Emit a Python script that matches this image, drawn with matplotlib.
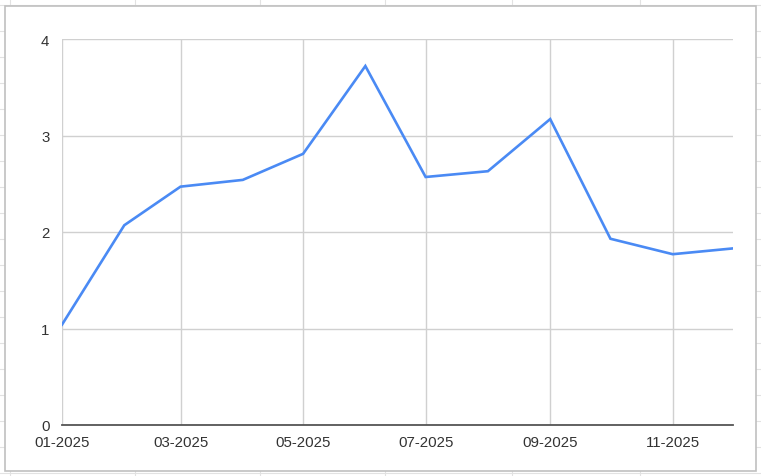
import matplotlib
matplotlib.use("Agg")
import matplotlib.pyplot as plt
import matplotlib.dates as mdates
from matplotlib.lines import Line2D
from matplotlib.patches import Rectangle
from datetime import date

plt.rcParams['font.family'] = ['Liberation Sans', 'DejaVu Sans']

# monthly values (first day of each month)
months = [date(2025, m, 1) for m in range(1, 13)]
values = [1.04, 2.07, 2.47, 2.54, 2.81, 3.72, 2.57, 2.63, 3.17, 1.93, 1.77, 1.83]
y_ticks = [0, 1, 2, 3, 4]

W, H = 761, 477
fig = plt.figure(figsize=(W / 100, H / 100), dpi=100)
fig.patch.set_facecolor('white')


def fx(px):
    return px / W


def fy(py):
    return 1 - py / H


# faint spreadsheet cells behind the chart
for py in [6, 32, 58, 84, 110, 136, 162, 188, 214, 240, 266, 292, 318, 344, 370, 396, 422, 448, 474]:
    fig.add_artist(Line2D([0, 1], [fy(py), fy(py)], transform=fig.transFigure,
                          color='#e2e2e2', lw=0.8, zorder=0))
for px in [10, 135, 260, 385, 512, 640]:
    fig.add_artist(Line2D([fx(px), fx(px)], [0, 1], transform=fig.transFigure,
                          color='#e2e2e2', lw=0.8, zorder=0))

# chart frame
fig.add_artist(Rectangle((fx(5), fy(472)), fx(756) - fx(5), fy(7) - fy(472),
                         transform=fig.transFigure, facecolor='white',
                         edgecolor='#c0c0c0', lw=1.2, zorder=1))

ax = fig.add_axes([fx(62), fy(426), fx(733) - fx(62), fy(40) - fy(426)], zorder=2)
ax.patch.set_alpha(0)

ax.plot(months, values, color='#4a8af4', lw=1.9, solid_joinstyle='miter', zorder=3)

ax.set_xlim(months[0], months[-1])
ax.set_ylim(0, 4)
ax.set_yticks(y_ticks)
ax.set_yticklabels([str(v) for v in y_ticks])
ax.set_xticks(months[::2])
ax.xaxis.set_major_formatter(mdates.DateFormatter('%m-%Y'))

ax.grid(True, color='#d0d0d0', lw=1.0)
ax.set_axisbelow(True)
for s in ['top', 'right', 'left']:
    ax.spines[s].set_visible(False)
ax.spines['bottom'].set_color('#555555')
ax.spines['bottom'].set_linewidth(1.3)
ax.spines['bottom'].set_zorder(2.5)

ax.tick_params(axis='both', length=0, labelsize=10.8, colors='#333333')
ax.tick_params(axis='y', pad=9)
ax.tick_params(axis='x', pad=7)

fig.savefig('out.png', dpi=100)
